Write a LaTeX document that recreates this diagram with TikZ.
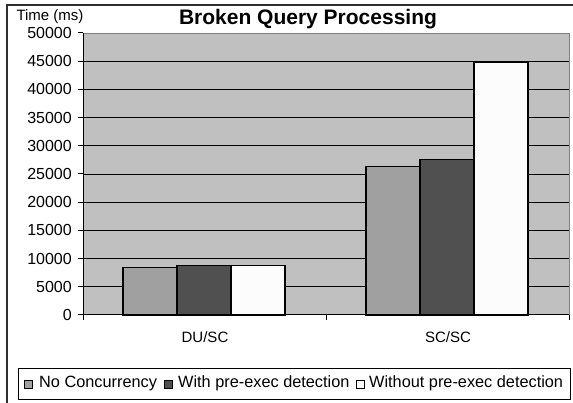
\documentclass[tikz,border=0pt]{standalone}
\usepackage{fontspec}
\setmainfont{Liberation Sans}
\definecolor{plotbg}{HTML}{C0C0C0}
\definecolor{seriesA}{HTML}{A0A0A0}
\definecolor{seriesB}{HTML}{505050}
\definecolor{seriesC}{HTML}{FCFCFC}
\definecolor{framecol}{HTML}{303030}
\tikzset{
  lbl/.style={font=\fontsize{15}{17}\selectfont, inner sep=0pt},
  ticklbl/.style={font=\fontsize{16}{18}\selectfont, inner sep=0pt, anchor=east},
  leglbl/.style={font=\fontsize{16.3}{18}\selectfont, inner sep=0pt, anchor=west},
  bar/.style={draw=black, line width=1.2pt},
  grid line/.style={draw=black, line width=0.8pt},
  axis line/.style={draw=black, line width=1pt},
  keybox/.style={draw=black, line width=0.8pt, minimum size=8pt, inner sep=0pt, anchor=west},
}
\begin{document}
\begin{tikzpicture}[x=1pt, y=-1pt]
  \useasboundingbox (0,0) rectangle (573,403);
  \clip (0,0) rectangle (573,403);
  \fill[white] (0,0) rectangle (573,403);
  % outer chart frame
  \draw[framecol, line width=1.5pt] (7,5) rectangle (580,410);

  % title and axis caption
  \node[font=\fontsize{21}{23}\selectfont\bfseries, inner sep=0pt] (title) at (308,19) {Broken Query Processing};
  \node[lbl] (ylabel) at (50,17) {Time (ms)};

  % plot area: y(v) = 315 - v[thousands]*5.64
  \fill[plotbg] (83,33) rectangle (569,315);
  \foreach \i in {1,...,10} {
    \draw[grid line] (83,{315-28.2*\i}) -- (569,{315-28.2*\i});
  }
  \draw[gray, line width=0.8pt] (83,33) -- (569,33) -- (569,315);

  % bars: bottom at y=315, width 54, values in thousands of ms
  \foreach \x/\v/\c in {123/8.45/seriesA, 177/8.74/seriesB, 231/8.74/seriesC,
                        366/26.3/seriesA, 420/27.6/seriesB, 474/44.8/seriesC} {
    \filldraw[bar, fill=\c] (\x,315) rectangle ({\x+54},{315-5.64*\v});
  }

  % axes and ticks
  \draw[axis line] (83,33) -- (83,315);
  \draw[axis line] (83,315) -- (569,315);
  \foreach \i in {0,...,10} {
    \draw[axis line] (78,{315-28.2*\i}) -- (83,{315-28.2*\i});
  }
  \foreach \x in {83,326,569} {
    \draw[axis line] (\x,315) -- (\x,320);
  }

  % tick labels
  \foreach \i/\t in {0/0,1/5000,2/10000,3/15000,4/20000,5/25000,6/30000,7/35000,8/40000,9/45000,10/50000} {
    \node[ticklbl] (tick\i) at (72,{315-28.2*\i}) {\t};
  }

  % category labels
  \node[lbl] (catA) at (205,337) {DU/SC};
  \node[lbl] (catB) at (448,337) {SC/SC};

  % legend
  \draw[black, line width=0.8pt] (18,368) rectangle (570,399);
  \node[keybox, fill=seriesA] (keyA) at (24,384) {};
  \node[leglbl] (legA) at (39,383) {No Concurrency};
  \node[keybox, fill=seriesB] (keyB) at (164,384) {};
  \node[leglbl] (legB) at (178,383) {With pre-exec detection};
  \node[keybox, fill=seriesC] (keyC) at (356,384) {};
  \node[leglbl] (legC) at (369,383) {Without pre-exec detection};
\end{tikzpicture}
\end{document}
